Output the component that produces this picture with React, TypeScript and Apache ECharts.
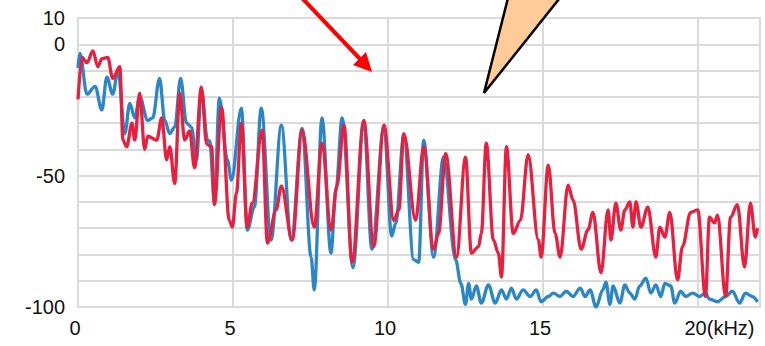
import React, { useEffect, useRef } from "react";
import * as echarts from "echarts";

// Frequencies in kHz and levels in dB
const blueFreq = [0.0, 0.06, 0.29, 0.55, 0.77, 0.93, 1.12, 1.29, 1.51, 1.67, 1.83, 1.99, 2.25, 2.41, 2.63, 2.8, 2.96, 3.12, 3.31, 3.5, 3.66, 3.82, 3.98, 4.18, 4.25, 4.4, 4.56, 4.82, 4.95, 5.27, 5.46, 5.69, 5.91, 6.23, 6.56, 6.88, 7.23, 7.52, 7.62, 7.87, 8.16, 8.32, 8.52, 8.87, 9.22, 9.48, 9.87, 10.12, 10.25, 10.51, 10.83, 10.99, 11.15, 11.47, 11.79, 12.18, 12.35, 12.5, 12.6, 12.69, 12.85, 13.01, 13.24, 13.46, 13.66, 13.82, 13.98, 14.14, 14.36, 14.59, 14.78, 14.94, 15.17, 15.33, 15.55, 15.75, 15.97, 16.2, 16.36, 16.52, 16.71, 16.93, 17.03, 17.16, 17.26, 17.48, 17.64, 17.8, 17.96, 18.12, 18.32, 18.48, 18.64, 18.8, 18.93, 19.12, 19.25, 19.44, 19.6, 19.83, 20.05, 20.24, 20.37, 20.63, 20.89, 21.11, 21.34, 21.53, 21.75, 21.92];
const blueDb = [-9, -3.5, -19, -16, -25, -12.5, -19, -10, -34, -22.5, -28, -20, -29, -28, -13, -29, -34, -31.5, -13, -30, -31.5, -44, -17.5, -36.5, -37, -60, -20.5, -44, -51.7, -24.3, -70.7, -62, -24.3, -74.5, -30.8, -74.5, -32, -81, -93.5, -28, -79.5, -55.5, -28, -85, -29.6, -78, -31.5, -73, -68, -34.6, -82, -83, -36.5, -81, -43, -82, -91, -99, -91, -97, -92, -98.5, -91.6, -98.5, -93.5, -97, -92.8, -97, -93.5, -96, -93.5, -98, -96, -94.7, -96, -94, -96, -92.8, -96, -93.5, -100, -93.5, -90.5, -99, -92, -98.5, -91.6, -94.7, -97, -92, -89, -94.7, -91.6, -96, -91, -92, -98.5, -94, -96, -94.7, -96, -94.7, -97, -98, -96, -94, -98.5, -94.7, -96, -98];

const redFreq = [0.0, 0.13, 0.29, 0.48, 0.64, 0.77, 0.96, 1.12, 1.35, 1.45, 1.57, 1.74, 1.83, 1.99, 2.15, 2.25, 2.54, 2.7, 2.86, 2.96, 3.12, 3.28, 3.44, 3.6, 3.76, 3.98, 4.15, 4.31, 4.4, 4.63, 4.88, 4.98, 5.11, 5.27, 5.46, 5.62, 5.94, 6.11, 6.39, 6.56, 6.91, 7.23, 7.62, 7.87, 8.16, 8.35, 8.58, 8.84, 9.22, 9.54, 9.87, 10.19, 10.35, 10.51, 10.89, 11.15, 11.47, 11.63, 11.86, 12.21, 12.5, 12.69, 12.92, 13.01, 13.17, 13.4, 13.56, 13.66, 13.82, 14.04, 14.27, 14.52, 14.85, 14.94, 15.17, 15.39, 15.55, 15.81, 15.97, 16.23, 16.45, 16.61, 16.87, 17.1, 17.19, 17.35, 17.51, 17.64, 17.8, 17.9, 18.0, 18.16, 18.38, 18.64, 18.77, 18.93, 19.09, 19.34, 19.5, 19.76, 19.99, 20.24, 20.37, 20.53, 20.63, 20.89, 21.05, 21.27, 21.5, 21.69, 21.85, 21.92];
const redDb = [-21, -5, -7, -2.5, -8.5, -5.5, -5, -13, -8.5, -36.5, -39, -30, -36.5, -18.6, -40, -35, -36.5, -28, -44, -39, -53, -18.6, -36.5, -33, -47, -16.3, -38, -39, -61, -24, -67, -69.6, -56.7, -30, -69.6, -60.5, -32.7, -75.7, -63, -54, -74.5, -32.7, -69.6, -37.6, -70.7, -54, -30.8, -83, -29, -77, -30.8, -67, -63, -34, -67, -39, -78, -72, -41.6, -81, -43, -79.5, -77, -72, -37.6, -74.5, -79.5, -88.6, -39, -72, -67, -42, -74.5, -81, -46, -72, -81, -53.6, -59.3, -78, -70.7, -64, -87, -63, -74.5, -60.5, -70.7, -63, -60, -69.6, -60, -69.6, -62, -81, -69.6, -73.4, -64, -89.7, -77, -64, -63, -96, -65.8, -68, -65, -96, -65.8, -61, -84.8, -60.5, -73.4, -70];

const xLabels = [0, 5, 10, 15, 20];
const yLabels = [10, 0, -50, -100];

const FONT = "'Liberation Sans', Arial, sans-serif";
const FS = 20;

export default function App() {
  const ref = useRef<HTMLDivElement>(null);
  useEffect(() => {
    if (!ref.current) return;
    const chart = echarts.init(ref.current, null, { renderer: "svg" });
    const blue = blueFreq.map((f, i) => [f, blueDb[i]]);
    const red = redFreq.map((f, i) => [f, redDb[i]]);
    chart.setOption({
      animation: false,
      backgroundColor: "#ffffff",
      grid: {
        left: 78,
        right: 5,
        top: 18,
        bottom: 39,
        show: true,
        borderColor: "#d2d2d2",
        borderWidth: 2,
      },
      xAxis: {
        type: "value",
        min: 0,
        max: 22,
        interval: 5,
        axisLine: { show: false },
        axisTick: { show: false },
        splitLine: { show: true, lineStyle: { color: "#dadada", width: 2 } },
        axisLabel: {
          margin: 11,
          color: "#111",
          fontSize: FS,
          fontFamily: FONT,
          padding: [0, 6, 0, 0],
          formatter: (v: number) => {
            if (v === 20) return "{a|20}{b|(kHz)}";
            return xLabels.includes(v) ? String(v) : "";
          },
          rich: {
            a: { fontSize: FS, fontFamily: FONT, color: "#111", padding: [0, 0, 0, 49] },
            b: { fontSize: FS, fontFamily: FONT, color: "#111" },
          },
        },
      },
      yAxis: {
        type: "value",
        min: -100,
        max: 10,
        interval: 10,
        axisLine: { show: false },
        axisTick: { show: false },
        splitLine: { show: true, lineStyle: { color: "#dadada", width: 2 } },
        axisLabel: {
          margin: 13,
          color: "#111",
          fontSize: FS,
          fontFamily: FONT,
          formatter: (v: number) => (yLabels.includes(v) ? String(v) : ""),
        },
      },
      series: [
        {
          type: "line",
          data: blue,
          showSymbol: false,
          symbol: "none",
          smooth: 0.35,
          smoothMonotone: "x",
          lineStyle: { color: "#2a86c6", width: 3.3, join: "round" },
          z: 2,
        },
        {
          type: "line",
          data: red,
          showSymbol: false,
          symbol: "none",
          smooth: 0.35,
          smoothMonotone: "x",
          lineStyle: { color: "#e8203f", width: 3.3, join: "round" },
          z: 3,
        },
      ],
      graphic: [
        {
          type: "line",
          shape: { x1: 302, y1: -2, x2: 361, y2: 60 },
          style: { stroke: "#ff0000", lineWidth: 4 },
          z: 10,
        },
        {
          type: "polygon",
          shape: { points: [[372, 72], [353, 65], [366, 52]] },
          style: { fill: "#ff0000" },
          z: 10,
        },
        {
          type: "polygon",
          shape: { points: [[484, 93], [509, -6], [563, -6]] },
          style: { fill: "#ffcc99", stroke: "#000000", lineWidth: 2.5, lineJoin: "miter" },
          z: 10,
        },
      ],
    });
    return () => chart.dispose();
  }, []);
  return (
    <div
      ref={ref}
      style={{ position: "fixed", left: 0, top: 0, width: 765, height: 346 }}
    />
  );
}
